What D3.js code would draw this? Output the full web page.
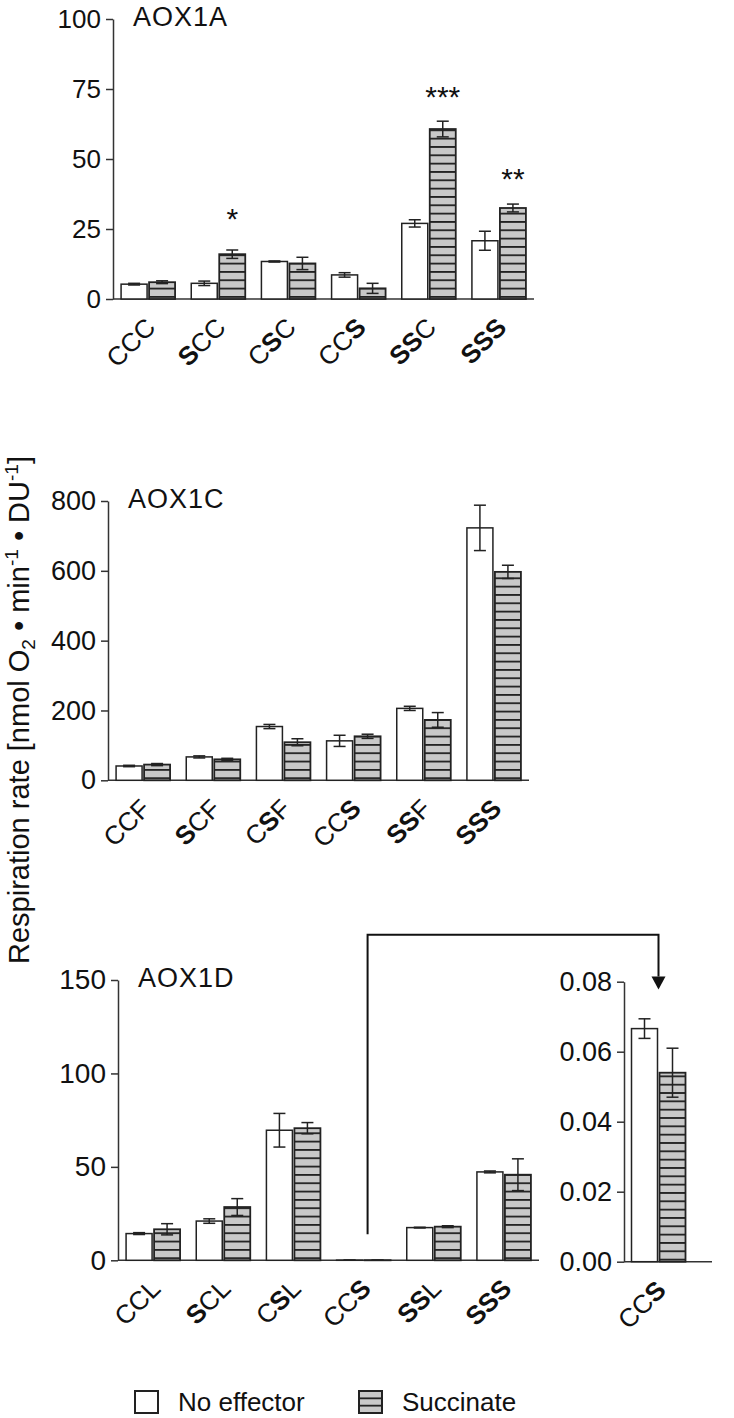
<!DOCTYPE html>
<html><head><meta charset="utf-8">
<script src="https://cdn.jsdelivr.net/npm/d3@7"></script>
<style>
body{margin:0;background:#fff}
svg text{font-family:"Liberation Sans",Arial,Helvetica,sans-serif;fill:#111}
</style>
</head><body>
<svg id="c" width="734" height="1418"></svg>
<script>
// ---------- DATA ----------
const seriesNames = ["No effector", "Succinate"];

const catsA = ["CCC", "SCC", "CSC", "CCS", "SSC", "SSS"];
const noEffA = [5.3, 5.6, 13.4, 8.6, 27.0, 20.8];
const noEffErrA = [0.3, 0.8, 0.2, 0.8, 1.3, 3.4];
const succA = [6.0, 16.0, 12.7, 3.8, 60.7, 32.5];
const succErrA = [0.5, 1.5, 2.2, 1.8, 2.8, 1.4];
const sigA = ["", "*", "", "", "***", "**"];
const sigLevelA = [null, 31, null, null, 74.6, 45.4];
const ticksA = [0, 25, 50, 75, 100];

const catsC = ["CCF", "SCF", "CSF", "CCS", "SSF", "SSS"];
const noEffC = [41, 67, 154, 113, 206, 723];
const noEffErrC = [2, 3, 6, 16, 6, 65];
const succC = [45, 60, 109, 126, 173, 597];
const succErrC = [3, 3, 10, 6, 21, 19];
const ticksC = [0, 200, 400, 600, 800];

const catsD = ["CCL", "SCL", "CSL", "CCS", "SSL", "SSS"];
const noEffD = [14.3, 21.0, 69.6, 0.067, 17.5, 47.3];
const noEffErrD = [0.5, 1.2, 9, 0.003, 0.2, 0.5];
const succD = [16.6, 28.5, 70.7, 0.054, 18.0, 45.8];
const succErrD = [3, 4.5, 3, 0.007, 0.5, 8.5];
const ticksD = [0, 50, 100, 150];

const catsInset = ["CCS"];
const noEffInset = [0.0666];
const noEffErrInset = [0.0028];
const succInset = [0.054];
const succErrInset = [0.007];
const ticksInset = [0, 0.02, 0.04, 0.06, 0.08];

// ---------- DRAW ----------
const svg = d3.select("#c");
const defs = svg.append("defs");
const INK = "#222";
const HATCH_FILL = "#c8c8c8";

function makeHatch(id, yAlign) {
  const p = defs.append("pattern").attr("id", id)
    .attr("patternUnits", "userSpaceOnUse")
    .attr("width", 10).attr("height", 8.33)
    .attr("patternTransform", `translate(0,${yAlign})`);
  p.append("rect").attr("width", 10).attr("height", 8.33).attr("fill", HATCH_FILL);
  p.append("rect").attr("y", 0).attr("width", 10).attr("height", 1.8).attr("fill", INK);
  return `url(#${id})`;
}

function labelText(sel, label) {
  label.split("").forEach(ch => {
    sel.append("tspan").text(ch).attr("font-weight", ch === "S" ? "bold" : "normal");
  });
}

function drawPanel(o) {
  const g = svg.append("g");
  const x = d3.scaleBand().domain(o.cats).range([o.x0, o.x1]);
  const y = d3.scaleLinear().domain([0, d3.max(o.ticks)]).range([o.yBase, o.yTop]);
  const hatch = makeHatch(o.id, o.yBase - 3);
  const fs = o.fontSize || 26;

  // y axis
  const ax = g.append("g").attr("transform", `translate(${o.x0},0)`)
    .call(d3.axisLeft(y).tickValues(o.ticks).tickSize(7).tickSizeOuter(0).tickPadding(5).tickFormat(o.fmt));
  ax.selectAll("path, line").attr("stroke", "#333").attr("stroke-width", 1.5);
  ax.selectAll("text").attr("font-size", fs).attr("fill", "#111")
    .attr("font-family", "Liberation Sans, Arial, sans-serif");

  // x axis line
  g.append("line").attr("x1", o.x0).attr("x2", o.x1 + (o.extend || 0))
    .attr("y1", o.yBase).attr("y2", o.yBase).attr("stroke", "#333").attr("stroke-width", 1.5);

  const bw = 26, gap = 1;
  const rows = o.cats.map((c, i) => ({
    c, i, cx: x(c) + x.bandwidth() / 2,
    a: o.a[i], ae: o.ae[i], b: o.b[i], be: o.be[i]
  }));

  // bars
  rows.forEach(r => {
    g.append("rect").attr("x", r.cx - gap - bw).attr("width", bw)
      .attr("y", y(r.a)).attr("height", o.yBase - y(r.a))
      .attr("fill", "#fff").attr("stroke", INK).attr("stroke-width", 1.5);
    g.append("rect").attr("x", r.cx + gap).attr("width", bw)
      .attr("y", y(r.b)).attr("height", o.yBase - y(r.b))
      .attr("fill", hatch).attr("stroke", INK).attr("stroke-width", 1.8);
  });

  // error bars
  const cap = 6;
  rows.forEach(r => {
    [[r.cx - gap - bw / 2, r.a, r.ae], [r.cx + gap + bw / 2, r.b, r.be]].forEach(([ex, v, e]) => {
      const yt = y(v + e), yb = y(Math.max(0, v - e));
      const eg = g.append("g").attr("stroke", INK).attr("stroke-width", 1.5);
      eg.append("line").attr("x1", ex).attr("x2", ex).attr("y1", yt).attr("y2", yb);
      eg.append("line").attr("x1", ex - cap).attr("x2", ex + cap).attr("y1", yt).attr("y2", yt);
      eg.append("line").attr("x1", ex - cap).attr("x2", ex + cap).attr("y1", yb).attr("y2", yb);
    });
  });

  // x labels
  rows.forEach(r => {
    const t = g.append("text").attr("font-size", 26).attr("text-anchor", "end")
      .attr("transform", `translate(${r.cx + 9},${o.yBase + 30}) rotate(-45)`);
    labelText(t, r.c);
  });

  // significance stars
  if (o.sig) {
    rows.forEach(r => {
      if (!o.sig[r.i]) return;
      g.append("text").attr("x", r.cx + gap + bw / 2).attr("y", y(o.sigLevel[r.i]) + 17)
        .attr("text-anchor", "middle").attr("font-size", 30).text(o.sig[r.i]);
    });
  }

  // title
  if (o.title) {
    g.append("text").attr("x", o.x0 + 20).attr("y", o.yTop + 7)
      .attr("font-size", 27).attr("letter-spacing", 1).text(o.title);
  }
  return { x, y, rows };
}

const fmtInt = d3.format("d");

drawPanel({ id: "hA", cats: catsA, a: noEffA, ae: noEffErrA, b: succA, be: succErrA,
  ticks: ticksA, fmt: fmtInt, x0: 113, x1: 534, yTop: 19, yBase: 299, title: "AOX1A",
  sig: sigA, sigLevel: sigLevelA, fontSize: 26 });

drawPanel({ id: "hC", cats: catsC, a: noEffC, ae: noEffErrC, b: succC, be: succErrC,
  ticks: ticksC, fmt: fmtInt, x0: 108, x1: 529, yTop: 501, yBase: 780.3, title: "AOX1C", fontSize: 27 });

const pD = drawPanel({ id: "hD", cats: catsD, a: noEffD, ae: noEffErrD, b: succD, be: succErrD,
  ticks: ticksD, fmt: fmtInt, x0: 118, x1: 539, yTop: 980, yBase: 1260.3, title: "AOX1D", fontSize: 28 });

const pI = drawPanel({ id: "hI", cats: catsInset, a: noEffInset, ae: noEffErrInset, b: succInset, be: succErrInset,
  ticks: ticksInset, fmt: d3.format(".2f"), x0: 624, x1: 693, extend: 19, yTop: 981.7, yBase: 1261.7, fontSize: 27 });

// connecting arrow (CCS in AOX1D -> inset)
const ccsD = pD.rows.find(r => r.c === "CCS");
const ccsI = pI.rows[0];
const ax0 = ccsD.cx + 4;
const ay0 = pD.y(14);
const ayTop = pI.y(0.08) - 47;
const tipY = pI.y(0.0778);
const headH = 13, headW = 7;
svg.append("path")
  .attr("d", `M${ax0},${ay0} V${ayTop} H${ccsI.cx} V${tipY - headH}`)
  .attr("fill", "none").attr("stroke", "#111").attr("stroke-width", 2);
svg.append("path")
  .attr("d", `M${ccsI.cx - headW},${tipY - headH} L${ccsI.cx + headW},${tipY - headH} L${ccsI.cx},${tipY} Z`)
  .attr("fill", "#111");

// y-axis title
const yl = svg.append("text").attr("font-size", 29).attr("text-anchor", "middle")
  .attr("transform", "translate(29,710) rotate(-90)");
yl.append("tspan").text("Respiration rate [nmol O");
yl.append("tspan").text("2").attr("font-size", 19).attr("dy", 6);
yl.append("tspan").text(" \u2022 min").attr("dy", -6);
yl.append("tspan").text("-1").attr("font-size", 19).attr("dy", -11);
yl.append("tspan").text(" \u2022 DU").attr("dy", 11);
yl.append("tspan").text("-1").attr("font-size", 19).attr("dy", -11);
yl.append("tspan").text("]").attr("dy", 11);

// legend
const legX = [135, 359];
const lg = svg.append("g");
seriesNames.forEach((name, i) => {
  const bx = legX[i], by = 1391, s = 23;
  if (i === 0) {
    lg.append("rect").attr("x", bx).attr("y", by).attr("width", s).attr("height", s - 1)
      .attr("fill", "#fff").attr("stroke", INK).attr("stroke-width", 2);
  } else {
    lg.append("rect").attr("x", bx).attr("y", by).attr("width", s).attr("height", s - 1)
      .attr("fill", HATCH_FILL).attr("stroke", INK).attr("stroke-width", 2);
    [1, 2].forEach(k => lg.append("line").attr("x1", bx).attr("x2", bx + s)
      .attr("y1", by + k * (s - 1) / 3).attr("y2", by + k * (s - 1) / 3)
      .attr("stroke", INK).attr("stroke-width", 1.8));
  }
  lg.append("text").attr("x", bx + 43).attr("y", 1411).attr("font-size", 26).text(name);
});
</script>
</body></html>
